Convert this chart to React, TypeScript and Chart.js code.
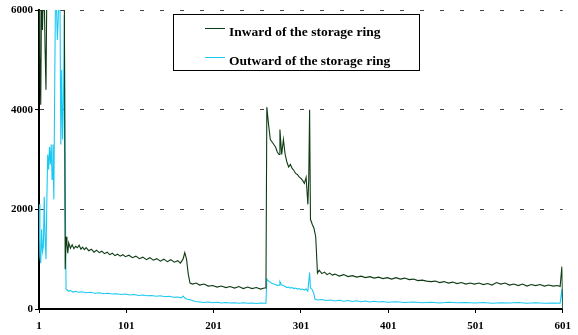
import React, { useEffect, useRef } from "react";
import { Chart, registerables } from "chart.js";

Chart.register(...registerables);

const seriesLabels = ["Inward of the storage ring", "Outward of the storage ring"];
const xTickValues = [1, 101, 201, 301, 401, 501, 601];
const yTickValues = [0, 2000, 4000, 6000];

// [sample index, count] pairs
const inwardPoints = [
  [1,6500],[2,5100],[3,4100],[4,6500],[5,5600],[6,6500],[7,6300],[8,5200],[9,4400],[10,6500],[30,6500],[31,800],
  [32,1450],[33,1300],[34,1120],[35,1330],[37,1220],[39,1290],[41,1210],[43,1260],[45,1230],[47,1280],[49,1200],
  [51,1240],[53,1190],[55,1230],[58,1170],[61,1200],[64,1140],[67,1180],[70,1130],[73,1160],[76,1110],[79,1140],
  [82,1090],[85,1120],[88,1070],[91,1100],[94,1060],[97,1090],[100,1050],[104,1080],[108,1030],[112,1060],
  [116,1010],[120,1040],[124,990],[128,1030],[132,980],[136,1010],[140,960],[144,1000],[148,950],[152,990],
  [156,940],[160,970],[163,920],[166,1000],[168,1130],[170,1000],[172,700],[174,520],[177,500],[181,520],
  [185,480],[190,500],[195,460],[200,470],[205,440],[210,460],[215,430],[220,450],[225,420],[230,450],[235,410],
  [240,440],[245,410],[250,430],[255,400],[259,420],[261,420],
  [262,4050],[264,3700],[266,3400],[268,3350],[270,3300],[272,3250],[274,3150],[276,3100],[277,3600],[279,3100],
  [281,3400],[283,3100],[285,2950],[287,2850],[289,2900],[291,2820],[293,2780],[295,2720],[297,2700],[299,2650],
  [301,2620],[303,2580],[305,2520],[307,2640],[309,2100],[310,2600],[311,4000],[312,1800],[314,1700],[316,1620],
  [318,1450],[320,720],[322,780],[325,710],[328,740],[331,690],[334,720],[337,680],[340,700],[345,660],[350,690],
  [355,650],[360,670],[365,640],[370,660],[375,630],[380,650],[385,620],[390,640],[395,610],[400,630],[405,600],
  [410,630],[415,600],[420,620],[425,590],[430,600],[435,570],[440,580],[445,560],[450,550],[455,560],[460,530],
  [465,550],[470,520],[475,540],[480,510],[485,530],[490,500],[495,520],[500,500],[505,520],[510,490],[515,510],
  [520,480],[525,530],[530,500],[535,520],[540,480],[545,500],[550,470],[555,500],[560,460],[565,490],[570,470],
  [575,490],[580,460],[585,480],[590,460],[595,470],[598,450],[600,850],[601,0],
];

const outwardPoints = [
  [1,2100],[2,1050],[3,920],[4,1600],[5,1150],[6,1250],[7,2250],[8,1400],[9,1000],[10,2200],[11,3100],[12,2800],
  [13,3250],[14,2900],[15,3300],[16,2600],[17,3300],[18,2200],[19,4500],[20,6500],[21,6100],[22,5400],[23,5800],
  [24,6500],[25,6200],[26,3300],[27,4800],[28,3400],[29,4200],[30,5900],[31,2500],
  [32,400],[33,380],[35,360],[37,370],[40,340],[43,355],[46,335],[50,345],[55,325],[60,335],[65,315],[70,325],
  [75,305],[80,315],[85,300],[90,305],[95,290],[100,300],[105,280],[110,290],[115,270],[120,280],[125,265],
  [130,270],[135,255],[140,265],[145,245],[150,255],[155,235],[160,240],[164,225],[166,260],[168,220],[170,200],
  [175,180],[180,150],[185,140],[190,130],[195,140],[200,125],[205,135],[210,120],[215,130],[220,120],[225,125],
  [230,115],[235,125],[240,115],[245,120],[250,110],[255,120],[260,115],[261,120],
  [262,600],[264,560],[266,540],[268,510],[270,500],[272,490],[274,470],[276,480],[277,550],[279,480],[281,470],
  [283,450],[285,430],[287,440],[289,420],[291,430],[293,410],[295,420],[297,400],[299,410],[301,390],[303,400],
  [305,380],[307,400],[309,360],[311,730],[312,420],[314,390],[316,300],[317,200],
  [320,180],[325,190],[330,170],[335,180],[340,160],[345,175],[350,155],[355,170],[360,150],[365,165],[370,145],
  [375,160],[380,140],[385,155],[390,140],[395,150],[400,135],[410,145],[420,130],[430,140],[440,125],[450,135],
  [460,120],[470,135],[480,125],[490,130],[500,120],[510,130],[520,115],[530,125],[540,120],[550,130],[560,115],
  [570,125],[580,115],[590,120],[598,115],[600,400],[601,0],
];

const colors = ["#0e3b14", "#1cc8f2"];

const legendPlugin = {
  id: "boxLegend",
  afterDraw(chart: any) {
    const ctx = chart.ctx;
    ctx.save();
    const bx = 173.5, by = 14.5, bw = 246, bh = 56;
    ctx.fillStyle = "#ffffff";
    ctx.fillRect(bx, by, bw, bh);
    ctx.strokeStyle = "#000000";
    ctx.lineWidth = 1;
    ctx.strokeRect(bx, by, bw, bh);
    ctx.font = "bold 13.5px 'Liberation Serif', 'Times New Roman', serif";
    ctx.textBaseline = "alphabetic";
    ctx.textAlign = "left";
    const rows = [
      { lineY: 28, textY: 36 },
      { lineY: 57, textY: 65 },
    ];
    chart.data.datasets.forEach((ds: any, i: number) => {
      const r = rows[i];
      ctx.strokeStyle = ds.borderColor;
      ctx.lineWidth = 1;
      ctx.beginPath();
      ctx.moveTo(205, r.lineY + 0.5);
      ctx.lineTo(225, r.lineY + 0.5);
      ctx.stroke();
      ctx.fillStyle = "#000000";
      ctx.fillText(ds.label, 229, r.textY);
    });
    ctx.restore();
  },
};

export default function App() {
  const ref = useRef<HTMLCanvasElement | null>(null);
  useEffect(() => {
    if (!ref.current) return;
    const tickFont = { family: "'Liberation Serif', 'Times New Roman', serif", size: 11, weight: "bold" as const };
    const chart = new Chart(ref.current, {
      type: "line",
      data: {
        datasets: [
          {
            label: seriesLabels[0],
            data: inwardPoints.map(([x, y]) => ({ x, y })),
            borderColor: colors[0],
            backgroundColor: colors[0],
            borderWidth: 1.1,
            pointRadius: 0,
            tension: 0,
          },
          {
            label: seriesLabels[1],
            data: outwardPoints.map(([x, y]) => ({ x, y })),
            borderColor: colors[1],
            backgroundColor: colors[1],
            borderWidth: 1.1,
            pointRadius: 0,
            tension: 0,
          },
        ],
      },
      options: {
        animation: false,
        responsive: false,
        layout: { padding: { top: 10, right: 10, left: 0, bottom: 0 } },
        plugins: { legend: { display: false }, tooltip: { enabled: false } },
        scales: {
          x: {
            type: "linear",
            min: 1,
            max: 601,
            afterBuildTicks: (axis: any) => {
              axis.ticks = xTickValues.map((v) => ({ value: v }));
            },
            afterFit: (scale: any) => {
              scale.height = 26;
            },
            grid: { drawOnChartArea: false, tickLength: 4, color: "#000", tickColor: "#000" },
            border: { display: true, color: "#000", width: 2 },
            ticks: {
              color: "#000",
              font: tickFont,
              padding: 7,
              maxRotation: 0,
              autoSkip: false,
              callback: (v: any) => String(v),
            },
          },
          y: {
            min: 0,
            max: 6000,
            afterBuildTicks: (axis: any) => {
              axis.ticks = yTickValues.map((v) => ({ value: v }));
            },
            afterFit: (scale: any) => {
              scale.width = 39;
            },
            grid: {
              color: "#444",
              lineWidth: 1,
              tickLength: 4,
              tickColor: "#000",
              tickBorderDash: [],
            },
            border: { display: true, color: "#000", width: 2, dash: [4, 16] },
            ticks: { color: "#000", font: tickFont, padding: 2, callback: (v: any) => String(v) },
          },
        },
      },
      plugins: [legendPlugin],
    });
    return () => chart.destroy();
  }, []);
  return (
    <div style={{ position: "absolute", left: 0, top: 0, width: 578, height: 335, background: "#fff" }}>
      <canvas ref={ref} width={578} height={335} />
    </div>
  );
}
